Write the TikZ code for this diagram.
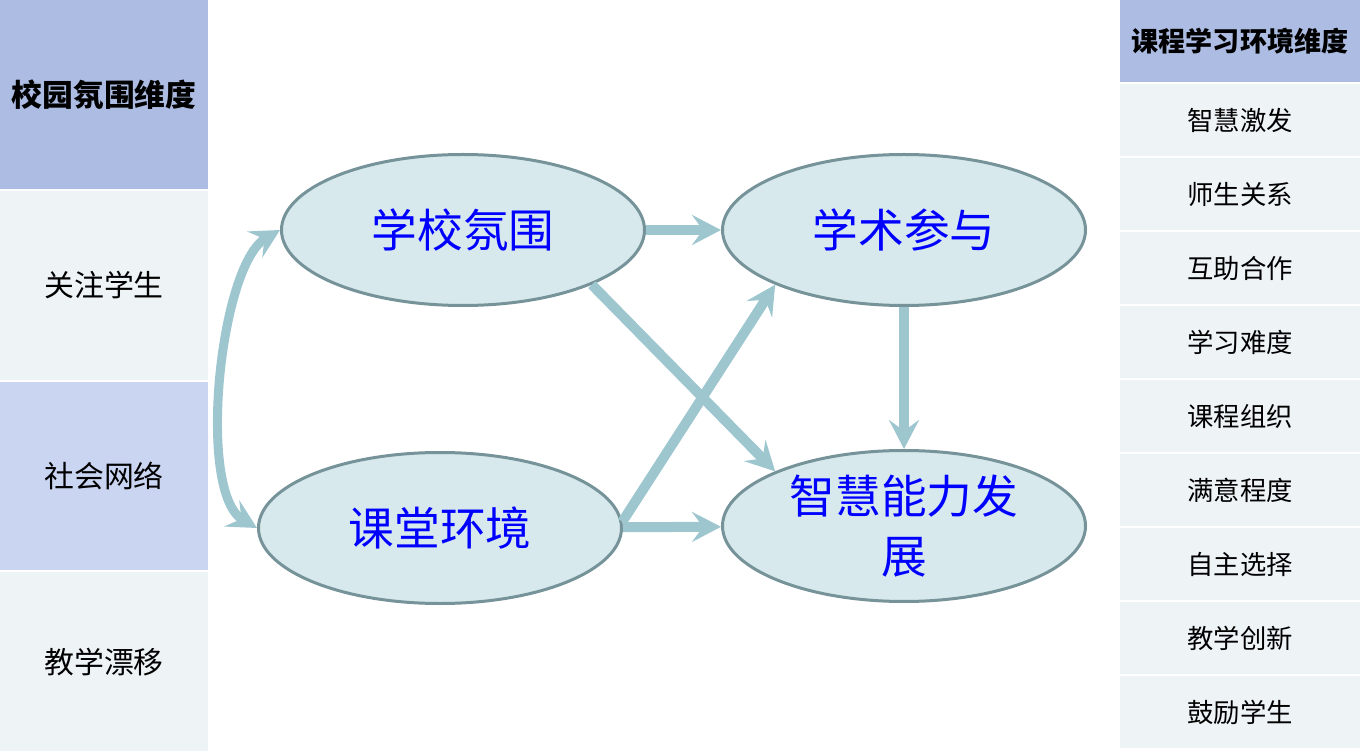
\documentclass[tikz,border=0pt]{standalone}
\usepackage{fontspec}
\setmainfont{Noto Sans CJK SC}
\usetikzlibrary{shapes.geometric,arrows.meta,positioning}
\definecolor{hdblue}{HTML}{ADBCE3}
\definecolor{midblue}{HTML}{CAD6F1}
\definecolor{paleblue}{HTML}{EEF3F6}
\definecolor{ellfill}{HTML}{D7E9ED}
\definecolor{ellline}{HTML}{76939A}
\definecolor{arrowblue}{HTML}{9DC6CF}
\tikzset{
  hd/.style = {fill=hdblue, inner sep=0pt, outer sep=0pt, align=center, font=\bfseries},
  lc/.style = {fill=paleblue, inner sep=0pt, outer sep=0pt, align=center},
  mc/.style = {fill=midblue, inner sep=0pt, outer sep=0pt, align=center},
  lcol/.style = {minimum width=4.16cm, font=\fontsize{17}{20}\selectfont},
  rcol/.style = {minimum width=4.8cm, minimum height=1.44cm, font=\fontsize{15}{18}\selectfont},
  ev/.style = {draw=ellline, fill=ellfill, line width=0.06cm, ellipse, minimum width=7.26cm, minimum height=3.02cm, inner sep=0pt, align=center, text=blue, font=\fontsize{26}{34}\selectfont},
  arrow/.style = {line width=0.2cm, draw=arrowblue, -{Stealth[length=0.58cm, width=0.6cm, inset=0.22cm]}},
  darrow/.style = {line width=0.18cm, draw=arrowblue, {Stealth[length=0.58cm, width=0.6cm, inset=0.22cm]}-{Stealth[length=0.58cm, width=0.6cm, inset=0.22cm]}}
}
\begin{document}
\begin{tikzpicture}
  \useasboundingbox (0,0) rectangle (27.2,-15.02);
  % left column
  \node[hd, lcol, minimum height=3.78cm, anchor=north west, font=\bfseries\fontsize{17.5}{20}\selectfont] (lhead) at (0,0) {校园氛围维度};
  \node[lc, lcol, minimum height=3.78cm, below=0.04cm of lhead] (l1) {关注学生};
  \node[mc, lcol, minimum height=3.76cm, below=0.04cm of l1] (l2) {社会网络};
  \node[lc, lcol, minimum height=3.6cm, below=0.04cm of l2] (l3) {教学漂移};
  % right column
  \node[hd, rcol, minimum height=1.64cm, anchor=north west, font=\bfseries\fontsize{15.4}{18}\selectfont] (rhead) at (22.4,0) {课程学习环境维度};
  \node[lc, rcol, below=0.04cm of rhead] (r1) {智慧激发};
  \node[lc, rcol, below=0.04cm of r1] (r2) {师生关系};
  \node[lc, rcol, below=0.04cm of r2] (r3) {互助合作};
  \node[lc, rcol, below=0.04cm of r3] (r4) {学习难度};
  \node[lc, rcol, below=0.04cm of r4] (r5) {课程组织};
  \node[lc, rcol, below=0.04cm of r5] (r6) {满意程度};
  \node[lc, rcol, below=0.04cm of r6] (r7) {自主选择};
  \node[lc, rcol, below=0.04cm of r7] (r8) {教学创新};
  \node[lc, rcol, below=0.04cm of r8] (r9) {鼓励学生};
  % model
  \node[ev] (school) at (9.26,-4.60) {学校氛围};
  \node[ev, right=1.5cm of school] (engage) {学术参与};
  \node[ev] (classroom) at (8.80,-10.56) {课堂环境};
  \node[ev, below=2.84cm of engage] (wisdom) {智慧能力发\\展};
  \draw[arrow] (school) -- (engage);
  \draw[arrow] (engage) -- (wisdom);
  \draw[arrow] (school.-23) -- (wisdom.157);
  \draw[arrow] (classroom.2) -- (engage.203);
  \draw[arrow] (classroom) -- (wisdom);
  \draw[darrow] (school.west) to[out=210, in=150, looseness=0.6] (classroom.west);
\end{tikzpicture}
\end{document}
